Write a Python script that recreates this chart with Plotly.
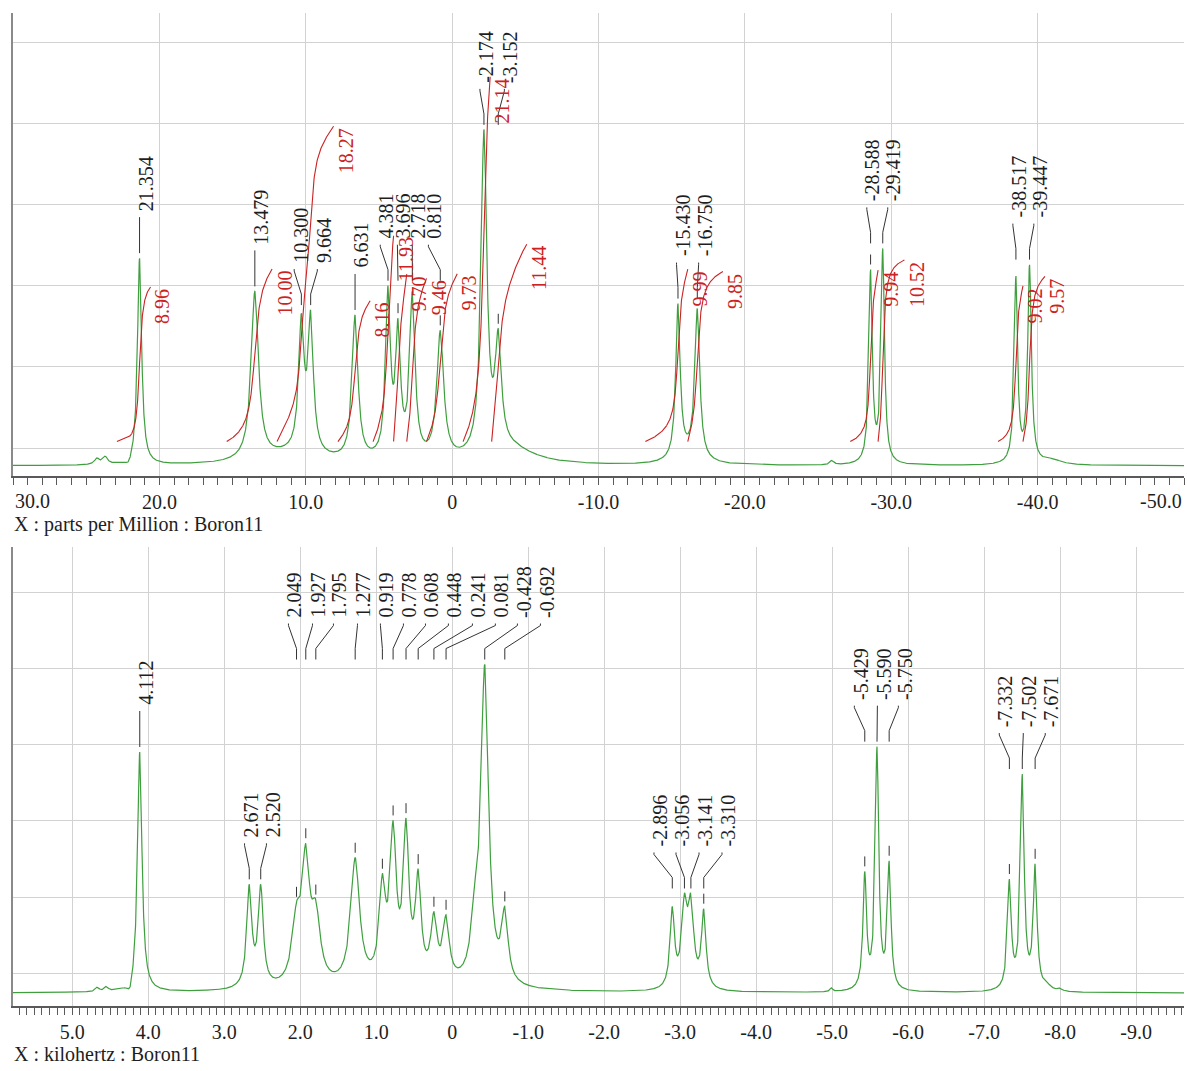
import numpy as np
import plotly.graph_objects as go

# ---------------- top spectrum (ppm) ----------------
TOP_PEAK_PPM = [24.26, 23.70, 22.10, 21.354, 13.479, 10.300, 9.664, 6.631, 4.381, 3.696, 2.718,
                0.810, -2.174, -3.152, -15.430, -16.750, -25.95, -28.588, -29.419, -38.517, -39.447]
TOP_PEAK_HEIGHT = [0.10, 0.12, 0.06, 2.56, 2.15, 1.88, 1.92, 1.86, 2.22, 1.82, 2.15,
                   1.67, 4.14, 1.69, 2.00, 1.94, 0.07, 2.42, 2.68, 2.34, 2.48]
TOP_PEAK_HWHM = [0.20, 0.20, 0.25, 0.17, 0.30, 0.22, 0.22, 0.24, 0.20, 0.20, 0.22,
                 0.28, 0.24, 0.25, 0.18, 0.20, 0.15, 0.14, 0.14, 0.14, 0.15]
TOP_BROAD_PPM = [11.0, -4.0, -16.1, -41.0]
TOP_BROAD_AMP = [0.12, 0.18, 0.10, 0.06]
TOP_BROAD_HWHM = [2.5, 2.0, 1.0, 0.8]

TOP_LABELS = ["21.354", "13.479", "10.300", "9.664", "6.631", "4.381", "3.696", "2.718", "0.810",
              "-2.174", "-3.152", "-15.430", "-16.750", "-28.588", "-29.419", "-38.517", "-39.447"]
TOP_LABEL_GROUP = [0, 1, 2, 2, 3, 4, 4, 4, 4, 5, 5, 6, 6, 7, 7, 8, 8]
TOP_LABEL_X = [21.354, 13.479, 10.79, 9.21, 6.631, 4.91, 3.74, 2.72, 1.62,
               -1.90, -3.57, -15.33, -16.84, -28.33, -29.76, -38.31, -39.74]

TOP_INT_START = [22.9, 15.4, 11.96, 7.8, 5.4, 4.0, 3.1, 1.75, -0.75, -2.7, -13.2, -16.1, -27.2, -29.1, -37.3, -39.0]
TOP_INT_END = [20.6, 12.3, 8.1, 5.6, 4.0, 3.1, 1.75, -0.35, -2.6, -5.1, -16.1, -18.5, -29.1, -30.9, -39.0, -40.5]
TOP_INT_VALUE = [8.96, 10.00, 18.27, 8.16, 11.93, 9.70, 9.46, 9.73, 21.14, 11.44, 9.99, 9.85, 9.94, 10.52, 9.02, 9.57]

TOP_TICKS = [30, 20, 10, 0, -10, -20, -30, -40, -50]
TOP_TICKTEXT = ["30.0", "20.0", "10.0", "0", "-10.0", "-20.0", "-30.0", "-40.0", "-50.0"]

# ---------------- bottom spectrum (kHz) ----------------
BOT_PEAK_KHZ = [4.67, 4.55, 4.24, 4.112, 2.671, 2.520, 2.049, 1.927, 1.795, 1.277, 0.919, 0.778,
                0.608, 0.448, 0.241, 0.081, -0.30, -0.428, -0.692, -2.896, -3.056, -3.141, -3.310,
                -4.99, -5.429, -5.590, -5.750, -7.332, -7.502, -7.671, -7.83, -8.00]
BOT_PEAK_HEIGHT = [0.08, 0.09, 0.08, 3.17, 1.43, 1.43, 1.20, 1.97, 1.23, 1.78, 1.57, 2.27,
                   2.30, 1.63, 1.07, 1.03, 1.50, 4.32, 1.14, 1.14, 1.31, 1.31, 1.11,
                   0.07, 1.60, 3.24, 1.74, 1.50, 2.88, 1.70, 0.14, 0.07]
BOT_PEAK_HWHM = [0.03, 0.03, 0.04, 0.035, 0.04, 0.04, 0.07, 0.06, 0.07, 0.07, 0.05, 0.05,
                 0.045, 0.045, 0.05, 0.05, 0.06, 0.06, 0.05, 0.035, 0.045, 0.045, 0.035,
                 0.02, 0.028, 0.028, 0.028, 0.03, 0.03, 0.03, 0.06, 0.03]
BOT_BROAD_KHZ = [0.6]
BOT_BROAD_AMP = [0.05]
BOT_BROAD_HWHM = [1.2]

BOT_LABELS = ["4.112", "2.671", "2.520", "2.049", "1.927", "1.795", "1.277", "0.919", "0.778", "0.608",
              "0.448", "0.241", "0.081", "-0.428", "-0.692", "-2.896", "-3.056", "-3.141", "-3.310",
              "-5.429", "-5.590", "-5.750", "-7.332", "-7.502", "-7.671"]
BOT_LABEL_GROUP = [0, 1, 1, 2, 2, 2, 2, 2, 2, 2, 2, 2, 2, 2, 2, 3, 3, 3, 3, 4, 4, 4, 5, 5, 5]
BOT_LABEL_X = [4.112, 2.733, 2.445, 2.155, 1.839, 1.563, 1.247, 0.945, 0.642, 0.352, 0.050, -0.266,
               -0.568, -0.858, -1.161, -2.655, -2.945, -3.248, -3.550, -5.292, -5.595, -5.871,
               -7.199, -7.515, -7.804]

BOT_TICKS = [5, 4, 3, 2, 1, 0, -1, -2, -3, -4, -5, -6, -7, -8, -9]
BOT_TICKTEXT = ["5.0", "4.0", "3.0", "2.0", "1.0", "0", "-1.0", "-2.0", "-3.0", "-4.0",
                "-5.0", "-6.0", "-7.0", "-8.0", "-9.0"]

TOP_TITLE = "X : parts per Million : Boron11"
BOT_TITLE = "X : kilohertz : Boron11"

# ---------------- layout geometry (pixels) ----------------
W, H = 1187, 1071
X_LEFT, X_RIGHT = 13, 1184
TOP_PX = (13, 476)
BOT_PX = (547, 1006)
TOP_RANGE_X = [30.0, -50.0]
BOT_RANGE_X = [5.78, -9.63]
TOP_RANGE_Y = [-0.124, 5.58]
BOT_RANGE_Y = [-0.1695, 5.865]
TOP_TICK0, BOT_TICK0 = 0.22, 0.263

GREEN = "#3f9f3f"
RED = "#cc2222"
TXT = "#1e1e1e"
FONT = "Liberation Serif, Times New Roman, serif"
FS = 20

INT_BASE = 0.30
INT_SCALE = 0.2126


def lor(x, c, g):
    return g * g / ((x - c) ** 2 + g * g)


def make_model(pc, ph, pw, bc, ba, bw):
    pc = np.asarray(pc, float)
    ph = np.asarray(ph, float)
    pw = np.asarray(pw, float)

    def bg(x):
        x = np.asarray(x, float)
        out = np.zeros_like(x)
        for c, a, w in zip(bc, ba, bw):
            out = out + a * lor(x, c, w)
        return out

    A = lor(pc[:, None], pc[None, :], pw[None, :])
    amp = np.linalg.solve(A, ph - bg(pc))

    def spec(x):
        x = np.atleast_1d(np.asarray(x, float))
        return bg(x) + (amp[None, :] * lor(x[:, None], pc[None, :], pw[None, :])).sum(axis=1)

    return spec


top_spec = make_model(TOP_PEAK_PPM, TOP_PEAK_HEIGHT, TOP_PEAK_HWHM, TOP_BROAD_PPM, TOP_BROAD_AMP, TOP_BROAD_HWHM)
bot_spec = make_model(BOT_PEAK_KHZ, BOT_PEAK_HEIGHT, BOT_PEAK_HWHM, BOT_BROAD_KHZ, BOT_BROAD_AMP, BOT_BROAD_HWHM)

fig = go.Figure()


def paper_y(px):
    return 1 - px / H


def add_panel(spec, xr, yr, tick0, px_span, xaxis, yaxis, step, labels, label_x, groups,
              ticks, ticktext, minor_dtick, edge_labels, title, ints=None):
    xs = np.arange(min(xr), max(xr) + step, step)
    ys = spec(xs)
    fig.add_trace(go.Scatter(x=xs, y=ys, mode="lines", line=dict(color=GREEN, width=1.2),
                             xaxis=xaxis, yaxis=yaxis, hoverinfo="skip", showlegend=False))
    unit_px = (px_span[1] - px_span[0]) / (yr[1] - yr[0])
    u = lambda p: p / unit_px

    # integrals
    if ints is not None:
        ix, iy = [], []
        for s, e, v in zip(*ints):
            xx = np.linspace(s, e, 300)
            yy = spec(xx)
            cum = np.concatenate([[0], np.cumsum(0.5 * (yy[1:] + yy[:-1]) * np.abs(np.diff(xx)))])
            cum = cum / cum[-1]
            ix += list(xx) + [None]
            iy += list(INT_BASE + INT_SCALE * v * cum) + [None]
            fig.add_annotation(x=e, y=INT_BASE + INT_SCALE * v, xref=xaxis, yref=yaxis,
                               text=f"{v:.2f}", showarrow=False, textangle=-90,
                               xanchor="center", yanchor="top", xshift=12,
                               font=dict(family=FONT, size=FS, color=RED))
        fig.add_trace(go.Scatter(x=ix, y=iy, mode="lines", line=dict(color=RED, width=1.1),
                                 xaxis=xaxis, yaxis=yaxis, hoverinfo="skip", showlegend=False))

    # peak labels with leader lines
    peaks = np.array([float(t) for t in labels])
    heights = spec(peaks)
    lx, ly = [], []
    groups = np.array(groups)
    for g in np.unique(groups):
        idx = np.where(groups == g)[0]
        yb = heights[idx].max() + u(5)
        for i in idx:
            px_, lab = peaks[i], label_x[i]
            pts = [(px_, yb), (px_, yb + u(11)), (lab, yb + u(34)), (lab, yb + u(36))]
            for a, b in pts:
                lx.append(a)
                ly.append(b)
            lx.append(None)
            ly.append(None)
            top = heights[i] + u(5)
            if yb - top > u(14):
                lx += [px_, px_, None]
                ly += [top, top + u(10), None]
            fig.add_annotation(x=lab, y=yb + u(40), xref=xaxis, yref=yaxis, text=labels[i],
                               showarrow=False, textangle=-90, xanchor="center", yanchor="bottom",
                               xshift=6, font=dict(family=FONT, size=FS, color=TXT))
    fig.add_trace(go.Scatter(x=lx, y=ly, mode="lines", line=dict(color="#333333", width=1),
                             xaxis=xaxis, yaxis=yaxis, hoverinfo="skip", showlegend=False))

    # axes
    domain_y = [paper_y(px_span[1]), paper_y(px_span[0])]
    ax_key = "xaxis" + xaxis[1:]
    ay_key = "yaxis" + yaxis[1:]
    shown_text = [("" if t in edge_labels else tt) for t, tt in zip(ticks, ticktext)]
    fig.layout[ax_key] = dict(domain=[X_LEFT / W, X_RIGHT / W], range=xr, anchor=yaxis,
                              tickmode="array", tickvals=ticks, ticktext=shown_text,
                              showgrid=True, gridcolor="#d2d2d2", gridwidth=1, zeroline=False,
                              showline=True, linecolor="#5a5a5a", linewidth=2,
                              ticks="outside", ticklen=7, tickcolor="#5a5a5a", tickwidth=1,
                              minor=dict(tickmode="linear", tick0=0, dtick=minor_dtick, ticks="outside",
                                         ticklen=7, tickcolor="#5a5a5a", tickwidth=1, showgrid=False),
                              tickfont=dict(family=FONT, size=FS, color=TXT), ticklabelstandoff=0)
    fig.layout[ay_key] = dict(domain=domain_y, range=yr, anchor=xaxis, tick0=tick0, dtick=1,
                              tickmode="linear", showticklabels=False, showgrid=True,
                              gridcolor="#d2d2d2", gridwidth=1, zeroline=False,
                              showline=True, linecolor="#8a8a8a", linewidth=2, ticks="")
    label_px = px_span[1] + 25
    for t, tt in zip(ticks, ticktext):
        if t in edge_labels:
            fig.add_annotation(x=t, y=paper_y(label_px), xref=xaxis, yref="paper", text=tt,
                               showarrow=False, xanchor=edge_labels[t], yanchor="middle",
                               font=dict(family=FONT, size=FS, color=TXT))
    fig.add_annotation(x=(X_LEFT - 1) / W, y=paper_y(px_span[1] + 48), xref="paper", yref="paper",
                       text=title, showarrow=False, xanchor="left", yanchor="middle",
                       font=dict(family=FONT, size=FS, color=TXT))


add_panel(top_spec, TOP_RANGE_X, TOP_RANGE_Y, TOP_TICK0, TOP_PX, "x", "y", 0.01,
          TOP_LABELS, TOP_LABEL_X, TOP_LABEL_GROUP, TOP_TICKS, TOP_TICKTEXT, 1,
          {30: "left", -50: "right"}, TOP_TITLE, ints=(TOP_INT_START, TOP_INT_END, TOP_INT_VALUE))
add_panel(bot_spec, BOT_RANGE_X, BOT_RANGE_Y, BOT_TICK0, BOT_PX, "x2", "y2", 0.002,
          BOT_LABELS, BOT_LABEL_X, BOT_LABEL_GROUP, BOT_TICKS, BOT_TICKTEXT, 0.1,
          {}, BOT_TITLE)

fig.update_layout(width=W, height=H, margin=dict(l=0, r=0, t=0, b=0),
                  paper_bgcolor="white", plot_bgcolor="white", showlegend=False)

fig.write_html("out.html", include_plotlyjs=True, config={"displayModeBar": False},
               post_script="document.body.style.margin='0';document.body.style.padding='0';")
